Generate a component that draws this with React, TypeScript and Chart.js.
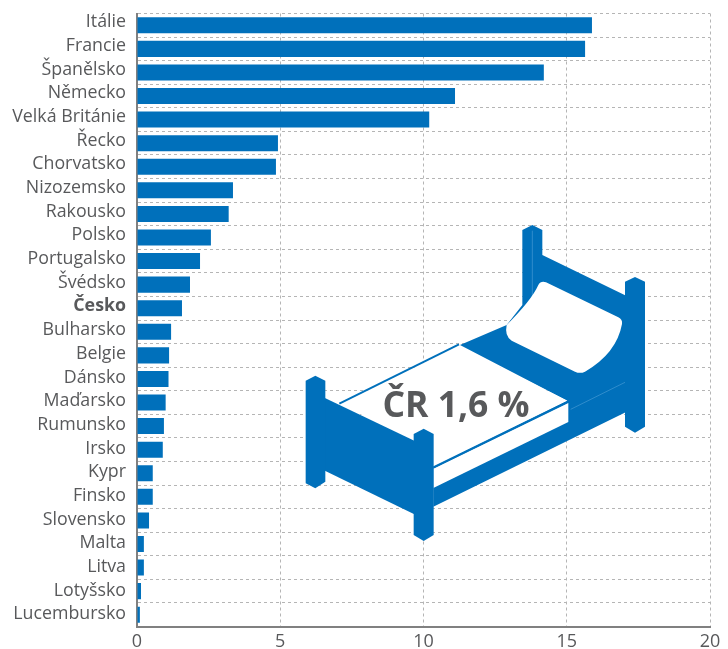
import React, { useEffect, useRef } from "react";
import { Chart, registerables } from "chart.js";

Chart.register(...registerables);

const countries = [
  "Itálie", "Francie", "Španělsko", "Německo", "Velká Británie", "Řecko", "Chorvatsko",
  "Nizozemsko", "Rakousko", "Polsko", "Portugalsko", "Švédsko", "Česko", "Bulharsko",
  "Belgie", "Dánsko", "Maďarsko", "Rumunsko", "Irsko", "Kypr", "Finsko", "Slovensko",
  "Malta", "Litva", "Lotyšsko", "Lucembursko",
];
const shares = [
  15.88, 15.64, 14.2, 11.1, 10.2, 4.92, 4.85, 3.35, 3.2, 2.58, 2.2, 1.85, 1.57, 1.19, 1.12,
  1.1, 1.0, 0.94, 0.9, 0.55, 0.55, 0.42, 0.24, 0.24, 0.14, 0.1,
];
const xTicks = [0, 5, 10, 15, 20];
const calloutText = "ČR 1,6 %";
const boldCategory = "Česko";

const BLUE = "#0070BB";
const FONT = '"Open Sans", "Noto Sans", sans-serif';
const TEXT = "#58595B";

type Pt = [number, number];

function poly(ctx: CanvasRenderingContext2D, pts: Pt[], fill: string) {
  ctx.beginPath();
  pts.forEach(([x, y], i) => (i ? ctx.lineTo(x, y) : ctx.moveTo(x, y)));
  ctx.closePath();
  ctx.fillStyle = fill;
  ctx.fill();
}

function seg(ctx: CanvasRenderingContext2D, a: Pt, b: Pt, color: string, w: number) {
  ctx.beginPath();
  ctx.moveTo(a[0], a[1]);
  ctx.lineTo(b[0], b[1]);
  ctx.strokeStyle = color;
  ctx.lineWidth = w;
  ctx.stroke();
}

// Decorative bed illustration (not data), drawn in a 3x local coordinate space
const bedPlugin = {
  id: "bed",
  afterDatasetsDraw(chart: any) {
    const ctx: CanvasRenderingContext2D = chart.ctx;
    ctx.save();
    ctx.translate(290, 210);
    ctx.scale(1 / 3, 1 / 3);

    // back post and headboard + blue frame behind the mattress
    poly(ctx, [[697, 60], [727, 45], [757, 60], [757, 135], [1010, 258], [1010, 605], [430, 890], [430, 770], [832, 572], [510, 405], [650, 345], [697, 285]], BLUE);
    seg(ctx, [727, 62], [727, 270], "#5FA8DC", 1.5);
    seg(ctx, [842, 598], [1005, 517], "#5FA8DC", 1.5);

    // head post
    poly(ctx, [[1005, 215], [1035, 201], [1065, 215], [1065, 650], [1035, 668], [1005, 650]], BLUE);

    // pillow
    ctx.beginPath();
    ctx.moveTo(650, 345);
    ctx.quadraticCurveTo(725, 270, 745, 225);
    ctx.quadraticCurveTo(752, 212, 768, 217);
    ctx.lineTo(985, 322);
    ctx.quadraticCurveTo(998, 328, 996, 342);
    ctx.quadraticCurveTo(980, 430, 885, 485);
    ctx.quadraticCurveTo(870, 492, 855, 485);
    ctx.lineTo(665, 392);
    ctx.quadraticCurveTo(643, 378, 650, 345);
    ctx.closePath();
    ctx.fillStyle = "#FFFFFF";
    ctx.fill();

    // mattress
    poly(ctx, [[150, 582], [505, 408], [832, 572], [430, 770], [372, 692]], "#FFFFFF");
    poly(ctx, [[430, 776], [835, 579], [835, 636], [430, 834]], "#FFFFFF");
    seg(ctx, [148, 581], [507, 403], BLUE, 6);
    seg(ctx, [430, 772], [835, 574], BLUE, 6);

    // foot board and posts
    poly(ctx, [[100, 562], [376, 694], [376, 914], [100, 780]], BLUE);
    poly(ctx, [[47, 512], [76, 497], [106, 512], [106, 815], [76, 835], [47, 820]], BLUE);
    poly(ctx, [[371, 672], [401, 656], [431, 672], [431, 975], [401, 993], [371, 975]], BLUE);
    ctx.restore();

    ctx.save();
    ctx.font = `bold 35.5px ${FONT}`;
    ctx.fillStyle = TEXT;
    ctx.textAlign = "center";
    ctx.textBaseline = "alphabetic";
    ctx.fillText(calloutText, 456, 416.5);
    ctx.restore();
  },
};

export default function App() {
  const ref = useRef<HTMLCanvasElement>(null);

  useEffect(() => {
    const chart = new Chart(ref.current!, {
      type: "bar",
      data: {
        labels: countries,
        datasets: [{ data: shares, backgroundColor: BLUE, barPercentage: 0.68, categoryPercentage: 1 }],
      },
      plugins: [bedPlugin],
      options: {
        indexAxis: "y",
        responsive: false,
        animation: false,
        layout: { padding: { top: 13.5, right: 18, left: 0, bottom: 0 } },
        plugins: { legend: { display: false }, tooltip: { enabled: false } },
        scales: {
          x: {
            type: "linear",
            min: 0,
            max: 20,
            afterBuildTicks: (axis: any) => {
              axis.ticks = xTicks.map((value) => ({ value }));
            },
            afterFit: (axis: any) => {
              axis.height = 22.5;
              axis.paddingLeft = 0;
              axis.paddingRight = 0;
            },
            grid: { color: "#B5B5B5", lineWidth: 1, drawTicks: false },
            border: { color: "#808080", width: 2, dash: [3, 3] },
            ticks: { color: TEXT, font: { family: FONT, size: 18 }, padding: 5, maxRotation: 0 },
          },
          y: {
            type: "category",
            afterFit: (axis: any) => {
              axis.width = 137;
              axis.paddingTop = 0;
              axis.paddingBottom = 0;
              if (!axis.__nudged) {
                axis.__nudged = true;
                // the reference's labels sit slightly above their rows, more so at the top
                const compute = axis._computeLabelItems.bind(axis);
                axis._computeLabelItems = (area: any) => {
                  const items = compute(area);
                  const n = items.length;
                  items.forEach((item: any, i: number) => {
                    const t = item.options.translation;
                    item.options.translation = [t[0], t[1] - 0.5 - (2.5 * (n - 1 - i)) / (n - 1)];
                  });
                  return items;
                };
              }
            },
            grid: { color: "#B5B5B5", lineWidth: 1, drawTicks: false, offset: true },
            border: { color: "#808080", width: 2, dash: [3, 3] },
            ticks: {
              autoSkip: false,
              color: TEXT,
              padding: 11,
              font: (c: any) => ({
                family: FONT,
                size: 17.8,
                weight: countries[c.index] === boldCategory ? "bold" : "normal",
              }),
            },
          },
        },
      },
    } as any);
    return () => chart.destroy();
  }, []);

  return (
    <div style={{ position: "absolute", left: 0, top: 0, width: 728, height: 649, background: "#fff" }}>
      <canvas ref={ref} width={728} height={649} style={{ display: "block" }} />
    </div>
  );
}
